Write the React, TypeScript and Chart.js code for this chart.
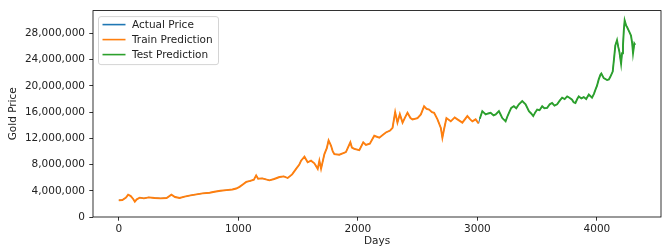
import { useEffect, useRef } from "react";
import { Chart, registerables } from "chart.js";

Chart.register(...registerables);

const seriesLabels = ["Actual Price", "Train Prediction", "Test Prediction"];
const seriesColors = ["#1f77b4", "#ff7f0e", "#2ca02c"];

const trainDays = [
  0, 30, 60, 78, 100, 120, 134, 150, 175, 210, 250, 300, 350, 400, 440, 470, 509, 550, 600, 650,
  700, 760, 800, 850, 900, 950, 982, 1010, 1040, 1066, 1100, 1130, 1149, 1165, 1200, 1260, 1300,
  1344, 1380, 1413, 1450, 1483, 1510, 1525, 1553, 1580, 1608, 1636, 1664, 1678, 1692, 1720, 1740,
  1755, 1775, 1790, 1803, 1845, 1900, 1937, 1950, 1970, 2012, 2045, 2067, 2100, 2137, 2179, 2234,
  2270, 2290, 2312, 2331, 2351, 2374, 2395, 2415, 2440, 2457, 2499, 2527, 2554, 2575, 2596, 2620,
  2638, 2666, 2694, 2707, 2721, 2741, 2777, 2810, 2833, 2874, 2916, 2940, 2958, 2985, 3010,
];
const trainPriceMillions = [
  2.55, 2.6, 2.95, 3.4, 3.2, 2.75, 2.35, 2.7, 2.95, 2.85, 3.0, 2.9, 2.85, 2.9, 3.4, 3.05, 2.9, 3.1, 3.3, 3.45,
  3.6, 3.7, 3.85, 4.0, 4.1, 4.2, 4.35, 4.6, 5.0, 5.35, 5.5, 5.7, 6.35, 5.85, 5.9, 5.6, 5.8,
  6.1, 6.2, 5.95, 6.5, 7.35, 8.0, 8.6, 9.2, 8.35, 8.6, 8.2, 7.35, 8.6, 7.35, 9.6, 10.5,
  11.7, 10.9, 10.0, 9.6, 9.5, 9.9, 11.4, 10.6, 10.4, 10.2, 11.4, 11.0, 11.2, 12.4, 12.1, 12.9,
  13.2, 13.6, 16.0, 14.4, 15.7, 14.4, 15.2, 15.9, 15.1, 14.9, 15.1, 15.65, 16.9, 16.5, 16.4, 16.0,
  15.9, 14.9, 13.6, 12.1, 13.4, 15.1, 14.6, 15.2, 14.9, 14.4, 15.4, 14.9, 14.6, 14.9, 14.3,
];

const testDays = [
  3020, 3041, 3069, 3090, 3111, 3135, 3153, 3180, 3195, 3208, 3236, 3250, 3264, 3283, 3305, 3325,
  3347, 3375, 3403, 3431, 3450, 3467, 3485, 3500, 3520, 3542, 3560, 3584, 3605, 3625, 3645, 3667,
  3690, 3709, 3730, 3751, 3770, 3792, 3805, 3820, 3835, 3848, 3870, 3890, 3910, 3932, 3959, 3975,
  3987, 4000, 4015, 4029, 4037, 4057, 4085, 4100, 4112, 4132, 4145, 4154, 4168, 4178, 4188, 4202,
  4210, 4218, 4225, 4232, 4245, 4252, 4262, 4272, 4285, 4295, 4302, 4313, 4320,
];
const testPriceMillions = [
  15.0, 16.15, 15.65, 15.8, 15.9, 15.5, 15.65, 16.15, 15.6, 15.1, 14.6, 15.3, 15.9, 16.65, 16.9, 16.6,
  17.2, 17.7, 17.2, 16.15, 15.8, 15.4, 16.0, 16.4, 16.3, 16.9, 16.6, 16.65, 17.2, 17.4, 17.0, 17.2,
  17.8, 18.2, 18.0, 18.4, 18.2, 17.9, 17.5, 17.4, 18.0, 18.4, 18.1, 18.3, 18.0, 18.7, 18.2, 18.8,
  19.4, 20.0, 21.0, 21.7, 21.9, 21.2, 20.9, 21.0, 21.4, 22.2, 24.5, 26.2, 27.0, 26.0, 25.2, 23.4,
  25.0, 26.2, 28.5, 30.0, 29.2, 29.0, 28.6, 28.2, 27.7, 26.5, 25.0, 26.5, 26.3,
];

const xTickValues = [0, 1000, 2000, 3000, 4000];
const yTickValues = [0, 4000000, 8000000, 12000000, 16000000, 20000000, 24000000, 28000000];
const xAxisTitle = "Days";
const yAxisTitle = "Gold Price";

const FONT = "'DejaVu Sans', sans-serif";
const TEXT = "#222";

const toPoints = (days: number[], vals: number[]) =>
  days.map((d, i) => ({ x: d, y: vals[i] * 1e6 }));

export default function App() {
  const ref = useRef<HTMLCanvasElement | null>(null);

  useEffect(() => {
    document.body.style.margin = "0";
    const canvas = ref.current;
    if (!canvas) return;

    const framePlugin = {
      id: "frameAndLegend",
      afterDatasetsDraw(chart: any) {
        const { ctx, chartArea } = chart;
        const { left, top, right, bottom } = chartArea;
        ctx.save();
        ctx.strokeStyle = "#000";
        ctx.lineWidth = 0.8;
        ctx.strokeRect(left, top, right - left, bottom - top);

        // legend
        const bx = left + 5.5;
        const by = top + 6;
        const bw = 120;
        const bh = 48;
        const r = 2.5;
        ctx.beginPath();
        ctx.moveTo(bx + r, by);
        ctx.lineTo(bx + bw - r, by);
        ctx.arcTo(bx + bw, by, bx + bw, by + r, r);
        ctx.lineTo(bx + bw, by + bh - r);
        ctx.arcTo(bx + bw, by + bh, bx + bw - r, by + bh, r);
        ctx.lineTo(bx + r, by + bh);
        ctx.arcTo(bx, by + bh, bx, by + bh - r, r);
        ctx.lineTo(bx, by + r);
        ctx.arcTo(bx, by, bx + r, by, r);
        ctx.closePath();
        ctx.fillStyle = "rgba(255,255,255,0.85)";
        ctx.fill();
        ctx.strokeStyle = "#d4d4d4";
        ctx.lineWidth = 1;
        ctx.stroke();

        ctx.font = `10.5px ${FONT}`;
        ctx.textBaseline = "middle";
        ctx.textAlign = "left";
        seriesLabels.forEach((label, i) => {
          const cy = top + 14 + i * 15;
          ctx.beginPath();
          ctx.strokeStyle = seriesColors[i];
          ctx.lineWidth = 1.6;
          ctx.moveTo(left + 9.5, cy);
          ctx.lineTo(left + 32.5, cy);
          ctx.stroke();
          ctx.fillStyle = TEXT;
          ctx.fillText(label, left + 39, cy + 0.5);
        });
        ctx.restore();
      },
    };

    const actual = toPoints(
      [...trainDays, ...testDays],
      [...trainPriceMillions, ...testPriceMillions]
    );

    const chart = new Chart(canvas, {
      type: "line",
      data: {
        datasets: [
          {
            label: seriesLabels[0],
            data: actual,
            borderColor: seriesColors[0],
            borderWidth: 1.0,
            pointRadius: 0,
            order: 3,
          },
          {
            label: seriesLabels[1],
            data: toPoints(trainDays, trainPriceMillions),
            borderColor: seriesColors[1],
            borderWidth: 1.9,
            pointRadius: 0,
            order: 2,
          },
          {
            label: seriesLabels[2],
            data: toPoints(testDays, testPriceMillions),
            borderColor: seriesColors[2],
            borderWidth: 1.9,
            pointRadius: 0,
            order: 1,
          },
        ],
      },
      options: {
        responsive: false,
        animation: false,
        devicePixelRatio: 1,
        layout: { padding: { top: 8, right: 4, left: 0, bottom: 0 } },
        plugins: {
          legend: { display: false },
          tooltip: { enabled: false },
        },
        scales: {
          x: {
            type: "linear",
            min: -216,
            max: 4536,
            afterBuildTicks: (scale: any) => {
              scale.ticks = xTickValues.map((v) => ({ value: v }));
            },
            afterFit: (scale: any) => {
              scale.height = 32;
            },
            border: { display: false },
            grid: {
              drawOnChartArea: false,
              drawTicks: true,
              tickLength: 3.7,
              tickColor: "#000",
              lineWidth: 0.8,
            },
            ticks: {
              color: TEXT,
              font: { family: FONT, size: 10.5 },
              padding: 2,
              maxRotation: 0,
              callback: (v: any) => String(v),
            },
            title: {
              display: true,
              text: xAxisTitle,
              color: TEXT,
              font: { family: FONT, size: 10.5 },
              padding: { top: 0, bottom: 1.5 },
            },
          },
          y: {
            type: "linear",
            min: 0,
            max: 31500000,
            afterBuildTicks: (scale: any) => {
              scale.ticks = yTickValues.map((v) => ({ value: v }));
            },
            afterFit: (scale: any) => {
              scale.width = 93;
            },
            border: { display: false },
            grid: {
              drawOnChartArea: false,
              drawTicks: true,
              tickLength: 3.7,
              tickColor: "#000",
              lineWidth: 0.8,
            },
            ticks: {
              color: TEXT,
              font: { family: FONT, size: 10.5 },
              padding: 4.3,
              callback: (v: any) => Number(v).toLocaleString("en-US"),
            },
            title: {
              display: true,
              text: yAxisTitle,
              color: TEXT,
              font: { family: FONT, size: 10.5 },
              padding: { top: 6.7, bottom: 0 },
            },
          },
        },
      },
      plugins: [framePlugin],
    });

    return () => chart.destroy();
  }, []);

  return (
    <div style={{ width: 665, height: 249 }}>
      <canvas ref={ref} width={665} height={249} style={{ display: "block" }} />
    </div>
  );
}
